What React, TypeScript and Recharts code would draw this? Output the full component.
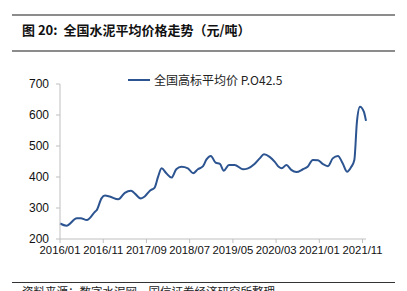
import { LineChart, Line, XAxis, YAxis, Legend } from 'recharts'

// 全国高标平均价 P.O42.5（元/吨）
const dates = [
  '2016-01-01', '2016-02-16', '2016-04-28', '2016-05-25', '2016-07-07', '2016-09-04',
  '2016-09-16', '2016-10-19', '2016-11-13', '2016-12-16', '2017-02-15', '2017-04-01',
  '2017-05-13', '2017-07-22', '2017-08-19', '2017-09-25', '2017-10-28', '2017-11-22',
  '2017-12-16', '2018-01-19', '2018-02-25', '2018-03-28', '2018-05-04', '2018-06-19',
  '2018-07-25', '2018-08-28', '2018-10-04', '2018-10-28', '2018-11-28', '2019-01-01',
  '2019-02-01', '2019-02-28', '2019-04-04', '2019-05-13', '2019-07-10', '2019-08-16',
  '2019-10-01', '2019-11-07', '2019-12-07', '2020-01-16', '2020-02-22', '2020-03-19',
  '2020-04-10', '2020-05-13', '2020-06-16', '2020-07-22', '2020-09-07', '2020-10-10',
  '2020-11-16', '2020-12-22', '2021-01-25', '2021-03-01', '2021-04-04', '2021-05-10',
  '2021-06-13', '2021-07-13', '2021-08-13', '2021-09-04', '2021-09-22', '2021-10-13',
  '2021-11-10', '2021-11-25',
]
const prices = [
  250, 243, 267, 267, 261, 288,
  293, 331, 340, 337, 328, 349,
  356, 331, 337, 356, 366, 401,
  428, 412, 398, 425, 433, 428,
  412, 425, 435, 457, 468, 446,
  442, 420, 439, 439, 425, 428,
  442, 460, 473, 465, 449, 433,
  428, 439, 423, 416, 425, 433,
  455, 454, 442, 435, 460, 468,
  444, 417, 433, 455, 578, 627,
  611, 581,
]
const tickLabels = ['2016/01', '2016/11', '2017/09', '2018/07', '2019/05', '2020/03', '2021/01', '2021/11']
const yTicks = [200, 300, 400, 500, 600, 700]

const SERIES = '全国高标平均价 P.O42.5'
const BASE = 2016 * 12

// 日期 -> 自2016/01起的月数
function monthIdx(s: string) {
  const [y, m, d] = s.split(/[-/]/).map(Number)
  return y * 12 + (m - 1) - BASE + (d ? (d - 1) / 30 : 0)
}

const data = dates.map((d, i) => ({ t: monthIdx(d), price: prices[i] }))
const xTicks = tickLabels.map(l => monthIdx(l))
const labelOf = (v: number) => tickLabels[xTicks.indexOf(v)] ?? ''

const CJK = '"Noto Sans CJK SC", "Liberation Sans", sans-serif'
const SANS = '"Liberation Sans", Arial, sans-serif'
const BLUE = '#2c5491'

function LegendBox() {
  return (
    <div style={{ display: 'flex', alignItems: 'center', fontFamily: CJK, fontSize: 12, color: '#222', whiteSpace: 'nowrap' }}>
      <span style={{ display: 'inline-block', width: 22, height: 2, background: BLUE, marginRight: 4 }} />
      {SERIES}
    </div>
  )
}

export default function App() {
  return (
    <div style={{ position: 'absolute', left: 0, top: 0, width: 407, height: 291, overflow: 'hidden', background: '#fff' }}>
      <div style={{ position: 'absolute', left: 12, top: 14, width: 383, height: 2, background: '#8c8c8c' }} />
      <div style={{ position: 'absolute', left: 22, top: 21, fontFamily: CJK, fontWeight: 700, fontSize: 13, lineHeight: '18px', color: '#111', whiteSpace: 'nowrap' }}>
        图 20:&nbsp; 全国水泥平均价格走势（元/吨）
      </div>
      <div style={{ position: 'absolute', left: 12, top: 50, width: 383, height: 2, background: '#8c8c8c' }} />

      <div style={{ position: 'absolute', left: 0, top: 0 }}>
        <LineChart width={407} height={291} data={data} margin={{ top: 84, right: 41, bottom: 22, left: 0 }}>
          <XAxis
            dataKey="t" type="number" domain={[0, 'dataMax']} ticks={xTicks} interval={0}
            tickFormatter={labelOf} tickSize={4} tickMargin={3}
            stroke="#bfbfbf" tick={{ fontSize: 11.3, fill: '#111', fontFamily: SANS }}
          />
          <YAxis
            domain={[200, 700]} ticks={yTicks} width={60} tickSize={4} tickMargin={7}
            stroke="#bfbfbf" tick={{ fontSize: 12, fill: '#111', fontFamily: SANS }}
          />
          <Legend
            layout="horizontal" verticalAlign="middle" align="center"
            content={() => <LegendBox />}
            wrapperStyle={{ top: 71, left: 128, width: 'auto' }}
          />
          <Line
            type="monotone" dataKey="price" name={SERIES} stroke={BLUE} strokeWidth={2}
            dot={false} isAnimationActive={false}
          />
        </LineChart>
      </div>

      <div style={{ position: 'absolute', left: 12, top: 282, width: 383, height: 1, background: '#333' }} />
      <div style={{ position: 'absolute', left: 22, top: 284, fontFamily: CJK, fontSize: 11.5, lineHeight: '14px', color: '#222', whiteSpace: 'nowrap' }}>
        资料来源：数字水泥网，国信证券经济研究所整理
      </div>
    </div>
  )
}
